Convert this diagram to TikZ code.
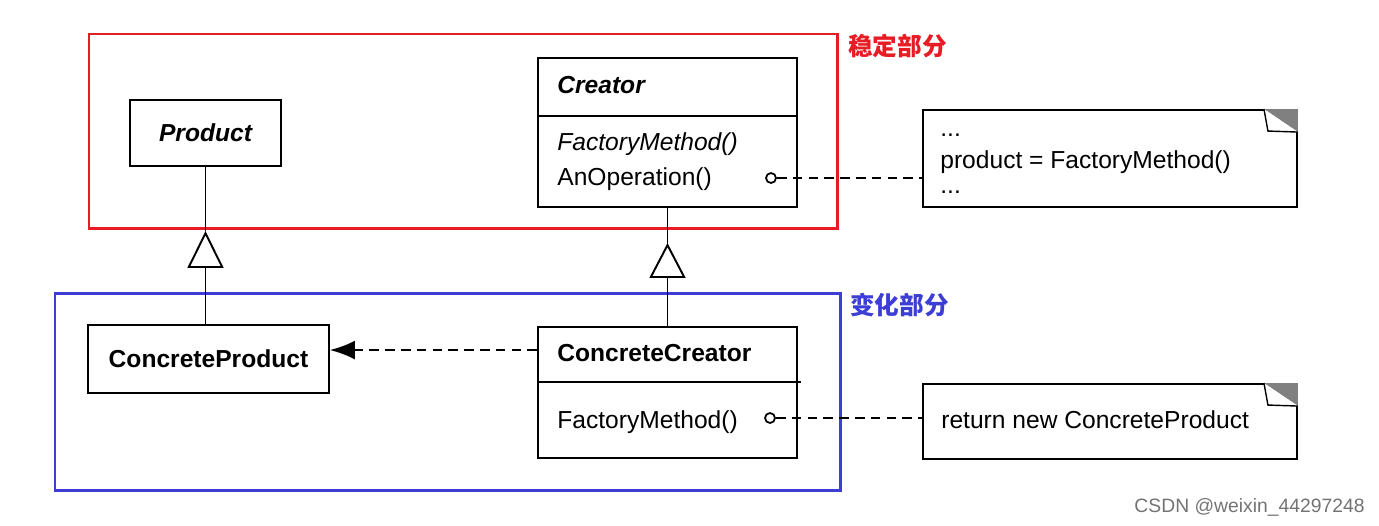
\documentclass[tikz,border=0pt]{standalone}
\usepackage{fontspec}
\setmainfont{Liberation Sans}
\newfontfamily\cjk{Noto Sans CJK SC}
\usepackage{xcolor}
\usetikzlibrary{arrows.meta}

\definecolor{stablered}{RGB}{232,28,36}
\definecolor{changeblue}{RGB}{60,62,212}
\definecolor{eargray}{RGB}{128,128,128}

\begin{document}
\begin{tikzpicture}[x=0.02cm, y=-0.02cm]
        \useasboundingbox (0,0) rectangle (1379,525);
        \fontsize{14}{16}\selectfont

        % stable / changing parts
        \draw[stablered, line width=1.7pt] (89,34) rectangle (837,228);
        \draw[changeblue, line width=1.7pt] (55,293) rectangle (840,490);
        \begin{scope}[every node/.style = {anchor=west, inner sep=0pt, font=\cjk\bfseries\fontsize{14}{16}\selectfont}]
            \node[text=stablered]  (stable) at (848,46)  {稳定部分};
            \node[text=changeblue] (change) at (850,305) {变化部分};
        \end{scope}

        % class boxes and notes
        \begin{scope}[every node/.style = {rectangle, draw, line width=1.1pt, inner sep=0pt, fill=white}]
            \node[minimum width=3.02cm, minimum height=1.32cm, font=\bfseries\itshape] (P) at (205.5,133) {Product};
            \node[minimum width=5.18cm, minimum height=2.98cm] (C) at (667.5,132.5) {};

            \node[minimum width=4.82cm, minimum height=1.36cm, font=\bfseries] (CP) at (208.5,359) {ConcreteProduct};
            \node[minimum width=5.18cm, minimum height=2.62cm] (CC) at (667.5,392.5) {};

            \node[minimum width=7.48cm, minimum height=1.94cm] (N1) at (1110,158.5) {};
            \node[minimum width=7.48cm, minimum height=1.50cm] (N2) at (1110,421.5) {};
        \end{scope}

        % compartments
        \draw[line width=1.1pt] ([yshift=-1.18cm]C.north west) -- ([yshift=-1.18cm]C.north east);
        \draw[line width=1.1pt] ([yshift=-1.12cm]CC.north west) -- ([xshift=0.06cm,yshift=-1.12cm]CC.north east);

        % dog-ears
        \foreach \n in {N1,N2} {
            \fill[eargray] ([xshift=-0.68cm]\n.north east) -- (\n.north east) -- ([yshift=-0.46cm]\n.north east) -- cycle;
            \draw[fill=white, line width=0.8pt] ([xshift=-0.68cm]\n.north east) -- ([xshift=-0.6cm,yshift=-0.44cm]\n.north east) -- ([yshift=-0.46cm]\n.north east);
        }

        % member texts
        \begin{scope}[every node/.style = {anchor=base west, inner sep=0pt}]
            \node[font=\bfseries\itshape] (Cname) at (557,93)  {Creator};
            \node[font=\itshape]          (Cfm)   at (557,150) {FactoryMethod()};
            \node                         (Cop)   at (557,185) {AnOperation()};

            \node[font=\bfseries] (CCname) at (557,361) {ConcreteCreator};
            \node                 (CCfm)   at (557,428) {FactoryMethod()};

            \node (N1a) at (940,136) {...};
            \node (N1b) at (940,168) {product = FactoryMethod()};
            \node (N1c) at (940,193) {...};
            \node (N2a) at (941,428) {return new ConcreteProduct};
        \end{scope}

        % connectors
        \path (P.south) ++(0,64) coordinate (g1);
        \path (C.south) ++(0,35) coordinate (g2);
        \coordinate (d1) at ([yshift=-0.48cm]CC.north west);

        \begin{scope}[line width=1.1pt,
                        every node/.style={circle, draw, fill=white, line width=1pt, inner sep=0pt, minimum size=0.2cm}]
            \draw[-{Triangle[open, length=0.74cm, width=0.72cm]}] (g1 |- CP.north) -- (g1);
            \draw (g1) -- (P.south);
            \draw[-{Triangle[open, length=0.7cm, width=0.72cm]}] (g2 |- CC.north) -- (g2);
            \draw (g2) -- (C.south);

            \draw[dash pattern=on 5.5pt off 3.5pt, -{Latex[length=0.5cm, width=0.38cm]}] (d1) -- (d1 -| CP.east);

            \node (o1) at (771,178) {};
            \node (o2) at (770,418) {};
            \draw[dash pattern=on 5.5pt off 3.5pt] (o1) -- (o1 -| N1.west);
            \draw[dash pattern=on 5.5pt off 3.5pt] (o2) -- (o2 -| N2.west);
        \end{scope}

        \node[anchor=base east, inner sep=0pt, text=black!55, font=\fontsize{11}{13}\selectfont] (csdn) at (1365,512) {CSDN @weixin\_44297248};
    \end{tikzpicture}
\end{document}
